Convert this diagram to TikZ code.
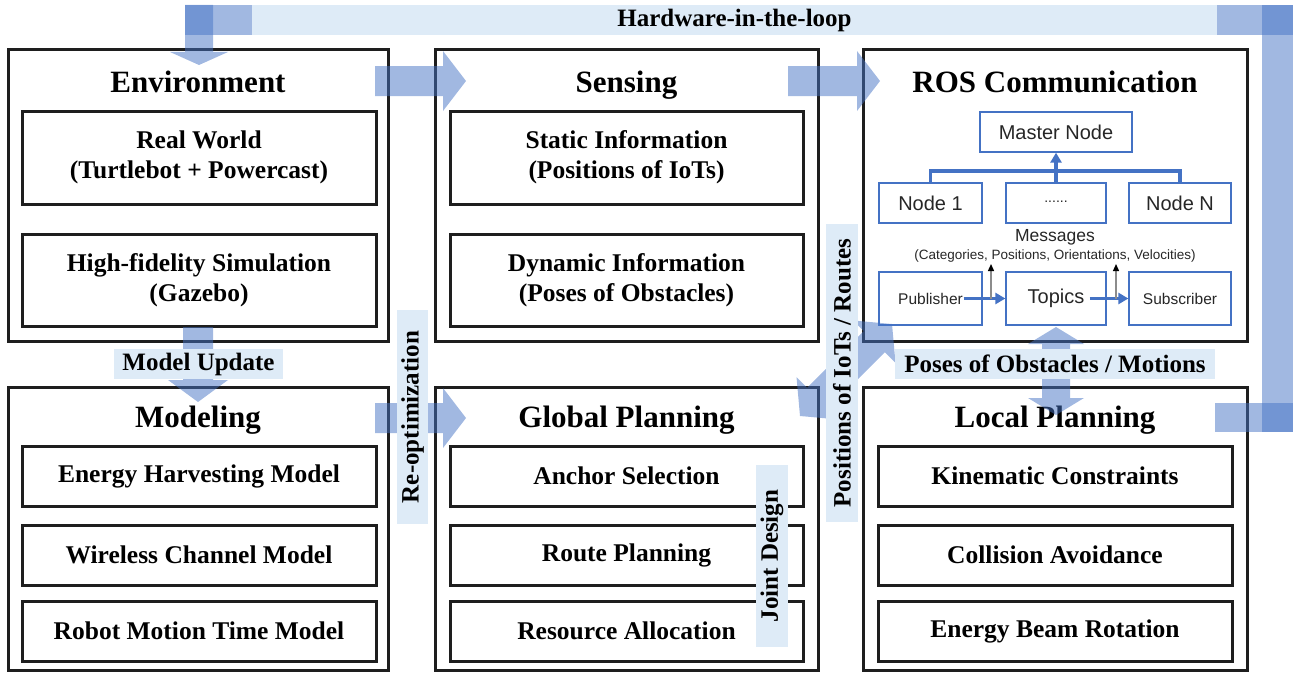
\documentclass[tikz,border=0pt]{standalone}
\usepackage{fontspec}
\setmainfont{Liberation Serif}
\newfontfamily\rosfont{Liberation Sans}
\usetikzlibrary{arrows.meta}
\definecolor{linecol}{HTML}{1E1E1E}
\definecolor{arrowblue}{HTML}{4472C4}
\definecolor{labelbg}{HTML}{DEEBF7}
\definecolor{rosblue}{HTML}{4472C4}
\definecolor{rostext}{HTML}{262626}
\definecolor{msgarrow}{HTML}{8C8C8C}
\begin{document}
\begin{tikzpicture}[x=1pt,y=-1pt,
 outerbox/.style={draw=linecol,line width=3pt,inner sep=0pt},
 subbox/.style={draw=linecol,line width=3pt,minimum width=354pt,inner sep=0pt,align=center,font=\fontsize{25.5}{30}\selectfont\bfseries},
 titletext/.style={anchor=base,font=\fontsize{31}{36}\selectfont\bfseries,inner sep=0pt},
 rosbox/.style={draw=rosblue,line width=1.3pt,minimum height=40pt,inner sep=0pt,text=rostext,font=\rosfont\fontsize{20}{24}\selectfont},
 rostxt/.style={text=rostext,inner sep=0pt},
 fatarrow/.style={fill=arrowblue,fill opacity=0.5},
 lbl/.style={fill=labelbg,inner sep=0pt,font=\fontsize{25}{30}\selectfont\bfseries},
 bus/.style={draw=rosblue,line width=3.5pt},
 flowarrow/.style={draw=rosblue,line width=3.5pt,-{Triangle[length=10pt,width=11pt]}},
 msgline/.style={draw=msgarrow,line width=1.3pt,-{Triangle[length=7pt,width=6pt,color=black]}}
]
\useasboundingbox (0,0) rectangle (1297,677);

% ---------- outer boxes ----------
\node[outerbox,minimum width=380pt,minimum height=291pt] (env) at (198,195.5) {};
\node[outerbox,minimum width=383pt,minimum height=291pt] (sens) at (626.5,195.5) {};
\node[outerbox,minimum width=384pt,minimum height=291pt] (ros) at (1055,195.5) {};
\node[outerbox,minimum width=380pt,minimum height=283pt] (model) at (198,528.5) {};
\node[outerbox,minimum width=383pt,minimum height=283pt] (glob) at (626.5,528.5) {};
\node[outerbox,minimum width=384pt,minimum height=283pt] (local) at (1055,528.5) {};

% ---------- titles ----------
\node[titletext] (tenv) at (198,92) {Environment};
\node[titletext] (tsens) at (626.5,92) {Sensing};
\node[titletext] (tros) at (1055,92) {ROS Communication};
\node[titletext] (tmodel) at (198,427) {Modeling};
\node[titletext] (tglob) at (626.5,427) {Global Planning};
\node[titletext] (tlocal) at (1055,427) {Local Planning};

% ---------- sub boxes ----------
\node[subbox,minimum height=93pt] (real) at (199,157.5) {Real World\\(Turtlebot + Powercast)};
\node[subbox,minimum height=92pt] (sim) at (199,280) {High-fidelity Simulation\\(Gazebo)};
\node[subbox,minimum width=353pt,minimum height=93pt] (static) at (626.5,157.5) {Static Information\\(Positions of IoTs)};
\node[subbox,minimum width=353pt,minimum height=92pt] (dyn) at (626.5,280) {Dynamic Information\\(Poses of Obstacles)};

\node[subbox,minimum height=60pt] (ehm) at (199,476) {Energy Harvesting Model};
\node[subbox,minimum height=60pt] (wcm) at (199,555) {Wireless Channel Model};
\node[subbox,minimum height=60pt] (rmt) at (199,631) {Robot Motion Time Model};
\node[subbox,minimum width=353pt,minimum height=60pt] (anch) at (626.5,476) {Anchor Selection};
\node[subbox,minimum width=353pt,minimum height=60pt] (route) at (626.5,555) {Route Planning};
\node[subbox,minimum width=353pt,minimum height=60pt] (res) at (626.5,631) {Resource Allocation};
\node[subbox,minimum height=60pt] (kin) at (1055,476) {Kinematic Constraints};
\node[subbox,minimum height=60pt] (col) at (1055,555) {Collision Avoidance};
\node[subbox,minimum height=60pt] (ebr) at (1055,631) {Energy Beam Rotation};

% ---------- ROS internals ----------
\node[rosbox,minimum width=152pt] (master) at (1056,132) {Master Node};
\node[rosbox,minimum width=103pt] (node1) at (930.5,203) {Node 1};
\node[rosbox,minimum width=100pt] (dots) at (1056,203) {\raisebox{3pt}{\fontsize{14}{14}\selectfont......}};
\node[rosbox,minimum width=102pt] (nodeN) at (1180,203) {Node N};
\node[rostxt,font=\rosfont\fontsize{17.5}{20}\selectfont] (msg) at (1055,237) {Messages};
\node[rostxt,font=\rosfont\fontsize{13.5}{16}\selectfont] (msgdet) at (1055,256) {(Categories, Positions, Orientations, Velocities)};
\node[rosbox,minimum width=103pt,minimum height=53pt,font=\rosfont\fontsize{15.5}{18}\selectfont] (pub) at (930.5,298.5) {Publisher};
\node[rosbox,minimum width=100pt,minimum height=53pt] (topics) at (1056,298.5) {Topics};
\node[rosbox,minimum width=102pt,minimum height=53pt,font=\rosfont\fontsize{15.5}{18}\selectfont] (sub) at (1180,298.5) {Subscriber};

\coordinate (busmid) at (1056,171);
\draw[bus] (node1.north) |- (busmid) -| (nodeN.north);
\draw[flowarrow] (dots.north) -- (master.south);
\draw[flowarrow] ([xshift=-19pt]pub.east) -- (topics.west);
\draw[flowarrow] ([xshift=-17pt]topics.east) -- (sub.west);
\coordinate (m1a) at (991,299);
\coordinate (m1b) at (991,264);
\coordinate (m2a) at (1116,299);
\coordinate (m2b) at (1116,264);
\draw[msgline] (m1a) -- (m1b);
\draw[msgline] (m2a) -- (m2b);

% ---------- fat arrows ----------
% hardware-in-the-loop loop
\fill[fatarrow] (1215,403) rectangle (1293,432);
\fill[fatarrow] (1262,5) rectangle (1293,432);
\fill[fatarrow] (185,5) rectangle (1293,35);
\fill[fatarrow] (185,5) -- (213,5) -- (213,52) -- (228,52) -- (199,65) -- (170,52) -- (185,52) -- cycle;
% Environment -> Sensing
\fill[fatarrow] (375,66) -- (443,66) -- (443,51) -- (466,81) -- (443,111) -- (443,96) -- (375,96) -- cycle;
% Sensing -> ROS
\fill[fatarrow] (788,66) -- (857,66) -- (857,51) -- (880,81) -- (857,111) -- (857,96) -- (788,96) -- cycle;
% Modeling -> Global Planning
\fill[fatarrow] (375,403) -- (443,403) -- (443,388) -- (466,418) -- (443,448) -- (443,433) -- (375,433) -- cycle;
% Model update (down)
\fill[fatarrow] (183,327) -- (213,327) -- (213,380) -- (228,380) -- (198,402) -- (168,380) -- (183,380) -- cycle;
% ROS <-> Local planning
\fill[fatarrow] (1056,327) -- (1084,344) -- (1070,344) -- (1070,398) -- (1084,398) -- (1056,415) -- (1028,398) -- (1042,398) -- (1042,344) -- (1028,344) -- cycle;
% Global planning <-> ROS (diagonal)
\fill[fatarrow] (800,416) -- (838.9,419.5) -- (828.3,408.9) -- (884.9,352.3) -- (895.5,362.9) -- (892,324) -- (853.1,320.5) -- (863.7,331.1) -- (807.1,387.7) -- (796.5,377.1) -- cycle;

% ---------- labels ----------
\node[lbl,minimum width=965pt,minimum height=30pt] (hwl) at (734.5,20) {Hardware-in-the-loop};
\node[lbl,minimum width=169pt,minimum height=30pt] (mupd) at (198.5,364) {Model Update};
\node[lbl,minimum width=320pt,minimum height=30pt] (poses) at (1055,364) {Poses of Obstacles / Motions};
\node[lbl,rotate=90,minimum width=214pt,minimum height=31pt] (reopt) at (412.5,417) {Re-optimization};
\node[lbl,rotate=90,minimum width=182pt,minimum height=32pt] (joint) at (772,556) {Joint Design};
\node[lbl,rotate=90,minimum width=298pt,minimum height=32pt] (posiot) at (842,373) {Positions of IoTs / Routes};
\end{tikzpicture}
\end{document}
